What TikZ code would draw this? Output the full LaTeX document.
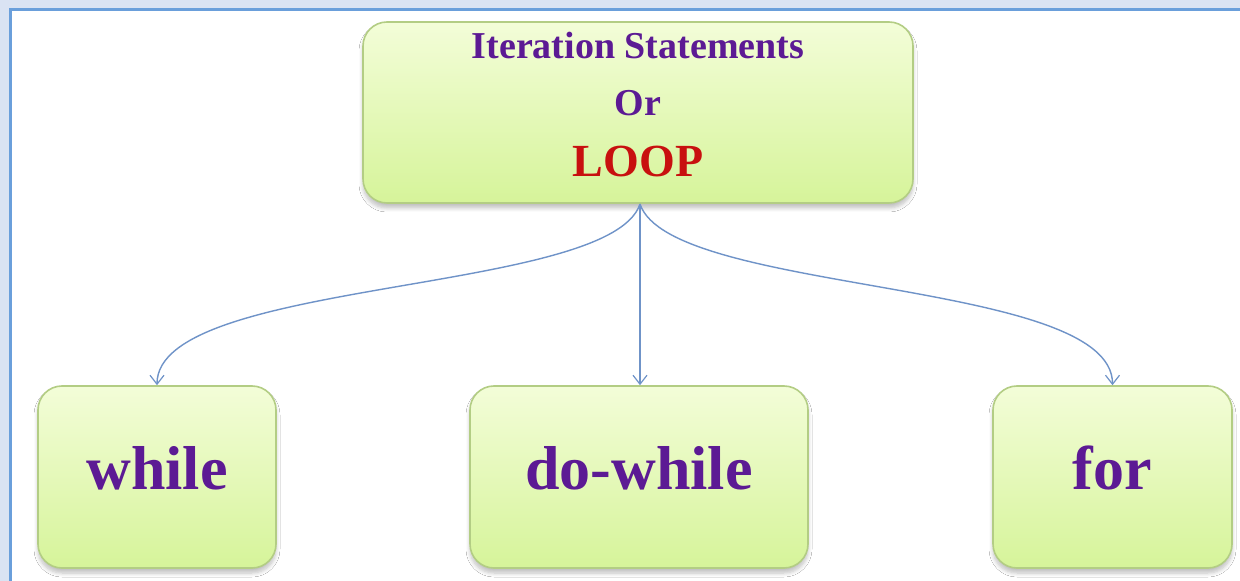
\documentclass[tikz,border=0pt]{standalone}
\usepackage{fontspec}
\setmainfont{Liberation Serif}
\usetikzlibrary{arrows.meta,shadows.blur}

\definecolor{bandblue}{HTML}{DAE3F3}
\definecolor{frameblue}{HTML}{6A9FDB}
\definecolor{boxtop}{HTML}{F3FDD8}
\definecolor{boxbottom}{HTML}{D6F49A}
\definecolor{boxedge}{HTML}{B3CD84}
\definecolor{textpurple}{HTML}{5C1A94}
\definecolor{textred}{HTML}{C8100F}
\definecolor{linkblue}{HTML}{6F93C8}

\tikzset{
  greenbox/.style={draw=boxedge, line width=0.8pt, rounded corners=12pt,
    top color=boxtop, bottom color=boxbottom, inner sep=0pt,
    blur shadow={shadow xshift=0pt, shadow yshift=-2.5pt, shadow blur steps=6,
      shadow blur radius=2pt, shadow opacity=25}},
  kindtext/.style={text=textpurple, font=\fontsize{31}{31}\selectfont\bfseries},
  headtext/.style={text=textpurple, font=\fontsize{19}{19}\selectfont\bfseries, anchor=base},
  link/.style={draw=linkblue, line width=0.7pt,
    -{Straight Barb[length=4.5pt,width=7pt,line width=0.6pt]}},
}

\begin{document}
\begin{tikzpicture}[x=0.5pt, y=-0.5pt]
  \useasboundingbox (0,0) rectangle (1240,581);

  % page frame
  \fill[bandblue] (0,0) rectangle (1240,581);
  \fill[white] (11,10) rectangle (1240,581);
  \draw[frameblue, line width=1.5pt] (10.5,581) -- (10.5,9.5) -- (1240,9.5);

  % root box
  \node[greenbox, minimum width=275pt, minimum height=90.5pt] (loop) at (638,112.5) {};
  \node[headtext] (title) at (638,59) {Iteration Statements};
  \node[headtext] (or) at (638,116) {Or};
  \node[headtext, text=textred, font=\fontsize{23}{23}\selectfont\bfseries] (loopword) at (638,177) {LOOP};

  % the three loop kinds
  \node[greenbox, minimum width=119pt, minimum height=91pt] (while) at (157,477) {};
  \node[greenbox, minimum width=169pt, minimum height=91pt] (dowhile) at (639,477) {};
  \node[greenbox, minimum width=119.5pt, minimum height=91pt] (for) at (1112.5,477) {};
  \node[kindtext, anchor=base] (whiletext) at (157,490) {while};
  \node[kindtext, anchor=base] (dowhiletext) at (639,490) {do-while};
  \node[kindtext, anchor=base] (fortext) at (1112.5,490) {for};

  % connectors
  \coordinate (root) at (640,204);
  \draw[link] (root) .. controls (610,295) and (157,278) .. (while.north);
  \draw[link] (root) -- (root |- dowhile.north);
  \draw[link] (root) .. controls (670,295) and (1112.5,278) .. (for.north);
\end{tikzpicture}
\end{document}
